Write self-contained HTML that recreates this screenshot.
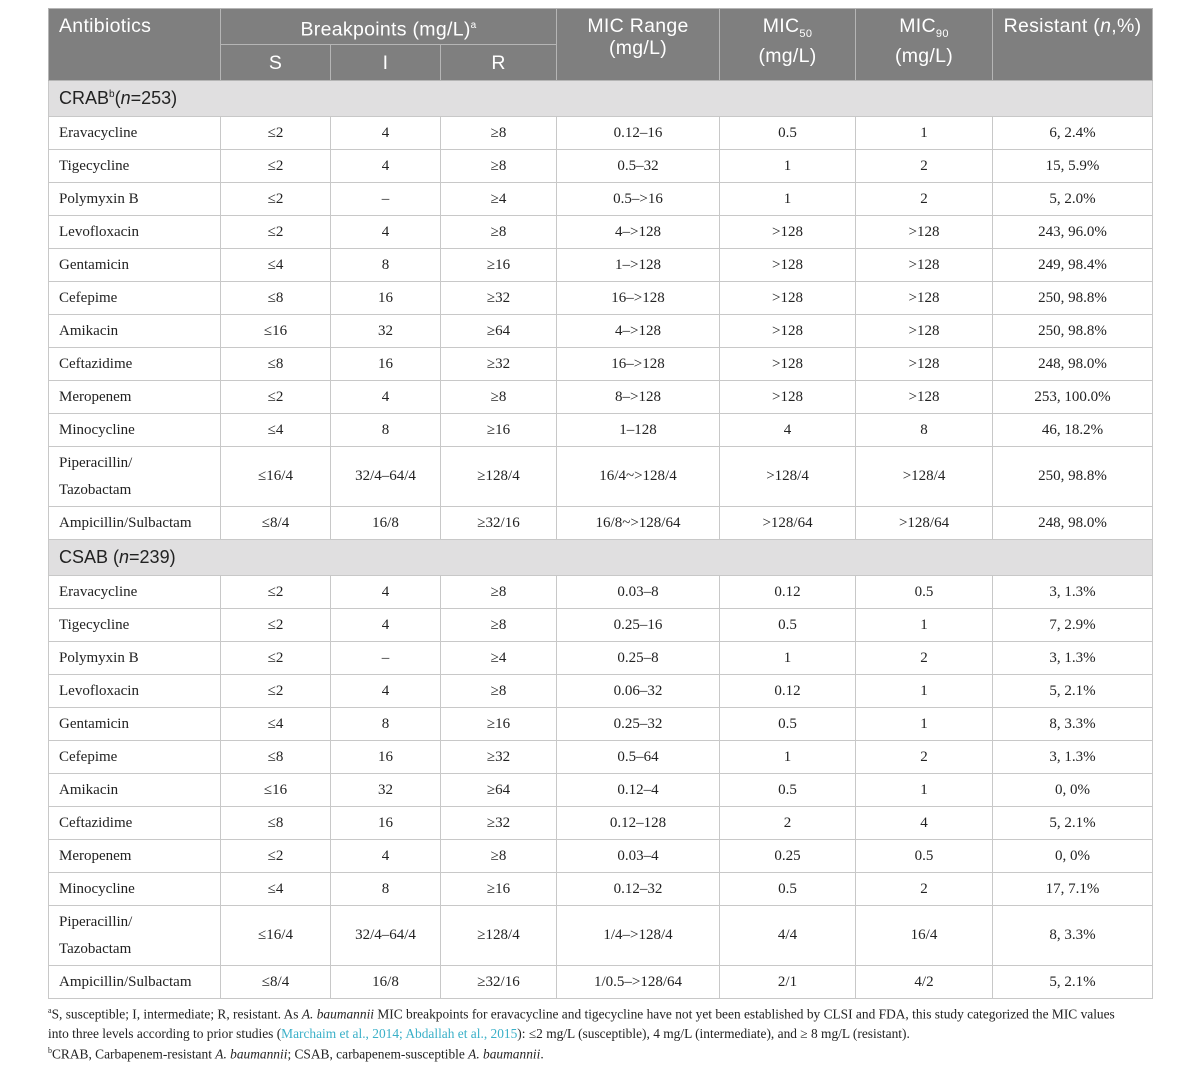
<!DOCTYPE html>
<html><head><meta charset="utf-8"><style>
body{margin:0;background:#fff;width:1200px;height:1070px;overflow:hidden}
table{position:absolute;left:48px;top:8px;border-collapse:collapse;table-layout:fixed;width:1104px}
td,th{border:1px solid #c8c8c8;padding:0;font-family:"Liberation Serif",serif;font-size:15px;color:#222;text-align:center}
th{background:#7f7f7f;color:#fff;font-family:"Liberation Sans",sans-serif;font-weight:normal;font-size:19.5px;letter-spacing:0.3px;border-color:#b5b5b5;vertical-align:top;line-height:22px}
td.n{text-align:left;padding-left:10px}
tr.r td{height:32px}
tr.p td{height:59px}
tr.s td{background:#e0dfe0;text-align:left;padding-left:10px;font-family:"Liberation Sans",sans-serif;font-size:18px;height:35px}
.fn{position:absolute;left:48px;font-family:"Liberation Serif",serif;font-size:13.4px;color:#222;line-height:20px}
.fn a{color:#3ab0c8}
sup{font-size:10px}
</style></head><body>
<table>
<colgroup><col style="width:172px"><col style="width:110px"><col style="width:110px"><col style="width:116px"><col style="width:163px"><col style="width:136px"><col style="width:137px"><col style="width:160px"></colgroup>
<tr style="height:36px"><th rowspan="2" style="text-align:left;padding-left:10px;padding-top:6px">Antibiotics</th><th colspan="3" style="padding-top:6px">Breakpoints (mg/L)<sup>a</sup></th><th rowspan="2" style="padding-top:6px">MIC Range<br>(mg/L)</th><th rowspan="2" style="padding-top:6px">MIC<sub style="font-size:11px">50</sub><br>(mg/L)</th><th rowspan="2" style="padding-top:6px">MIC<sub style="font-size:11px">90</sub><br>(mg/L)</th><th rowspan="2" style="padding-top:6px">Resistant (<i>n</i>,%)</th></tr>
<tr style="height:36px"><th style="vertical-align:middle">S</th><th style="vertical-align:middle">I</th><th style="vertical-align:middle">R</th></tr>
<tr class="s"><td colspan="8">CRAB<sup>b</sup>(<i>n</i>=253)</td></tr>
<tr class="r"><td class="n">Eravacycline</td><td>≤2</td><td>4</td><td>≥8</td><td>0.12–16</td><td>0.5</td><td>1</td><td>6, 2.4%</td></tr>
<tr class="r"><td class="n">Tigecycline</td><td>≤2</td><td>4</td><td>≥8</td><td>0.5–32</td><td>1</td><td>2</td><td>15, 5.9%</td></tr>
<tr class="r"><td class="n">Polymyxin B</td><td>≤2</td><td>–</td><td>≥4</td><td>0.5–&gt;16</td><td>1</td><td>2</td><td>5, 2.0%</td></tr>
<tr class="r"><td class="n">Levofloxacin</td><td>≤2</td><td>4</td><td>≥8</td><td>4–&gt;128</td><td>&gt;128</td><td>&gt;128</td><td>243, 96.0%</td></tr>
<tr class="r"><td class="n">Gentamicin</td><td>≤4</td><td>8</td><td>≥16</td><td>1–&gt;128</td><td>&gt;128</td><td>&gt;128</td><td>249, 98.4%</td></tr>
<tr class="r"><td class="n">Cefepime</td><td>≤8</td><td>16</td><td>≥32</td><td>16–&gt;128</td><td>&gt;128</td><td>&gt;128</td><td>250, 98.8%</td></tr>
<tr class="r"><td class="n">Amikacin</td><td>≤16</td><td>32</td><td>≥64</td><td>4–&gt;128</td><td>&gt;128</td><td>&gt;128</td><td>250, 98.8%</td></tr>
<tr class="r"><td class="n">Ceftazidime</td><td>≤8</td><td>16</td><td>≥32</td><td>16–&gt;128</td><td>&gt;128</td><td>&gt;128</td><td>248, 98.0%</td></tr>
<tr class="r"><td class="n">Meropenem</td><td>≤2</td><td>4</td><td>≥8</td><td>8–&gt;128</td><td>&gt;128</td><td>&gt;128</td><td>253, 100.0%</td></tr>
<tr class="r"><td class="n">Minocycline</td><td>≤4</td><td>8</td><td>≥16</td><td>1–128</td><td>4</td><td>8</td><td>46, 18.2%</td></tr>
<tr class="p"><td class="n" style="line-height:27px">Piperacillin/<br>Tazobactam</td><td>≤16/4</td><td>32/4–64/4</td><td>≥128/4</td><td>16/4~&gt;128/4</td><td>&gt;128/4</td><td>&gt;128/4</td><td>250, 98.8%</td></tr>
<tr class="r"><td class="n">Ampicillin/Sulbactam</td><td>≤8/4</td><td>16/8</td><td>≥32/16</td><td>16/8~&gt;128/64</td><td>&gt;128/64</td><td>&gt;128/64</td><td>248, 98.0%</td></tr>
<tr class="s"><td colspan="8">CSAB (<i>n</i>=239)</td></tr>
<tr class="r"><td class="n">Eravacycline</td><td>≤2</td><td>4</td><td>≥8</td><td>0.03–8</td><td>0.12</td><td>0.5</td><td>3, 1.3%</td></tr>
<tr class="r"><td class="n">Tigecycline</td><td>≤2</td><td>4</td><td>≥8</td><td>0.25–16</td><td>0.5</td><td>1</td><td>7, 2.9%</td></tr>
<tr class="r"><td class="n">Polymyxin B</td><td>≤2</td><td>–</td><td>≥4</td><td>0.25–8</td><td>1</td><td>2</td><td>3, 1.3%</td></tr>
<tr class="r"><td class="n">Levofloxacin</td><td>≤2</td><td>4</td><td>≥8</td><td>0.06–32</td><td>0.12</td><td>1</td><td>5, 2.1%</td></tr>
<tr class="r"><td class="n">Gentamicin</td><td>≤4</td><td>8</td><td>≥16</td><td>0.25–32</td><td>0.5</td><td>1</td><td>8, 3.3%</td></tr>
<tr class="r"><td class="n">Cefepime</td><td>≤8</td><td>16</td><td>≥32</td><td>0.5–64</td><td>1</td><td>2</td><td>3, 1.3%</td></tr>
<tr class="r"><td class="n">Amikacin</td><td>≤16</td><td>32</td><td>≥64</td><td>0.12–4</td><td>0.5</td><td>1</td><td>0, 0%</td></tr>
<tr class="r"><td class="n">Ceftazidime</td><td>≤8</td><td>16</td><td>≥32</td><td>0.12–128</td><td>2</td><td>4</td><td>5, 2.1%</td></tr>
<tr class="r"><td class="n">Meropenem</td><td>≤2</td><td>4</td><td>≥8</td><td>0.03–4</td><td>0.25</td><td>0.5</td><td>0, 0%</td></tr>
<tr class="r"><td class="n">Minocycline</td><td>≤4</td><td>8</td><td>≥16</td><td>0.12–32</td><td>0.5</td><td>2</td><td>17, 7.1%</td></tr>
<tr class="p"><td class="n" style="line-height:27px">Piperacillin/<br>Tazobactam</td><td>≤16/4</td><td>32/4–64/4</td><td>≥128/4</td><td>1/4–&gt;128/4</td><td>4/4</td><td>16/4</td><td>8, 3.3%</td></tr>
<tr class="r"><td class="n">Ampicillin/Sulbactam</td><td>≤8/4</td><td>16/8</td><td>≥32/16</td><td>1/0.5–&gt;128/64</td><td>2/1</td><td>4/2</td><td>5, 2.1%</td></tr>
</table>
<div class="fn" style="top:1001px;width:1080px"><sup style="font-size:8px">a</sup>S, susceptible; I, intermediate; R, resistant. As <i>A. baumannii</i> MIC breakpoints for eravacycline and tigecycline have not yet been established by CLSI and FDA, this study categorized the MIC values into three levels according to prior studies (<a>Marchaim et al., 2014; Abdallah et al., 2015</a>): ≤2 mg/L (susceptible), 4 mg/L (intermediate), and ≥ 8 mg/L (resistant).</div>
<div class="fn" style="top:1041px"><sup style="font-size:8px">b</sup>CRAB, Carbapenem-resistant <i>A. baumannii</i>; CSAB, carbapenem-susceptible <i>A. baumannii</i>.</div>
</body></html>
